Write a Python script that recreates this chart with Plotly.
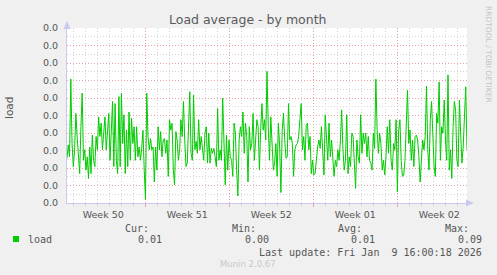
import pandas as pd
import plotly.graph_objects as go

# ---------------- data (load average) ----------------
load_values = [
    # Week 49/50
    0.0064, 0.0083, 0.0066, 0.0177, 0.0085, 0.0052, 0.0076, 0.0128, 0.0095, 0.0066,
    0.0042, 0.0109, 0.0157, 0.0061, 0.0076, 0.0047, 0.0066, 0.0035, 0.0080, 0.0042,
    0.0097, 0.0061, 0.0052, 0.0095, 0.0076, 0.0123, 0.0095, 0.0114, 0.0076, 0.0100,
    0.0123, 0.0076, 0.0109, 0.0128, 0.0061, 0.0109, 0.0145, 0.0052,
    0.0142, 0.0061, 0.0042, 0.0152, 0.0052, 0.0157, 0.0085, 0.0126, 0.0042, 0.0104,
    0.0052, 0.0130, 0.0061, 0.0121, 0.0085, 0.0109, 0.0061, 0.0109, 0.0066, 0.0080,
    0.0061, 0.0078, 0.0104, 0.0047, 0.0005, 0.0157, 0.0095, 0.0076, 0.0092, 0.0076,
    0.0080, 0.0030, 0.0080, 0.0047, 0.0109, 0.0076, 0.0102, 0.0066, 0.0090,
    # Week 51
    0.0092, 0.0071, 0.0090, 0.0038, 0.0119, 0.0104, 0.0114, 0.0047, 0.0026, 0.0102,
    0.0090, 0.0061, 0.0076, 0.0119, 0.0095, 0.0145, 0.0090, 0.0052, 0.0057, 0.0109,
    0.0159, 0.0071, 0.0061, 0.0154, 0.0076, 0.0088, 0.0071, 0.0119, 0.0076, 0.0095,
    0.0080, 0.0061, 0.0100, 0.0109, 0.0057, 0.0100, 0.0057, 0.0078, 0.0071,
    0.0078, 0.0066, 0.0052, 0.0135, 0.0061, 0.0076, 0.0061, 0.0150, 0.0090, 0.0026,
    0.0097, 0.0047, 0.0090, 0.0066, 0.0061, 0.0038, 0.0114, 0.0100, 0.0047, 0.0010,
    0.0090, 0.0109, 0.0095, 0.0130, 0.0071, 0.0114, 0.0095, 0.0030, 0.0109, 0.0076,
    0.0085, 0.0128, 0.0061, 0.0100, 0.0119, 0.0109, 0.0047, 0.0104, 0.0142, 0.0104,
    # Week 52
    0.0119, 0.0090, 0.0188, 0.0109, 0.0061, 0.0123, 0.0071, 0.0047, 0.0057, 0.0085,
    0.0038, 0.0114, 0.0080, 0.0015, 0.0104, 0.0128, 0.0090, 0.0064, 0.0066, 0.0142,
    0.0090, 0.0095, 0.0085, 0.0038, 0.0076, 0.0083, 0.0085, 0.0095, 0.0119, 0.0142,
    0.0076, 0.0095, 0.0061, 0.0111, 0.0114, 0.0076, 0.0095, 0.0042, 0.0061, 0.0040,
    0.0042, 0.0066, 0.0080, 0.0090, 0.0078, 0.0109, 0.0061, 0.0040, 0.0126, 0.0080,
    0.0061, 0.0114, 0.0066, 0.0090, 0.0061, 0.0038, 0.0061, 0.0052, 0.0076, 0.0061,
    0.0090, 0.0133, 0.0076, 0.0047, 0.0061, 0.0126, 0.0042, 0.0066, 0.0052, 0.0100,
    0.0095, 0.0061, 0.0021, 0.0090, 0.0066, 0.0057, 0.0126, 0.0071, 0.0100, 0.0085,
    # Week 01
    0.0100, 0.0066, 0.0095, 0.0061, 0.0057, 0.0047, 0.0100, 0.0078, 0.0177, 0.0104,
    0.0071, 0.0100, 0.0085, 0.0047, 0.0061, 0.0040, 0.0066, 0.0109, 0.0071, 0.0119,
    0.0061, 0.0047, 0.0085, 0.0076, 0.0119, 0.0016, 0.0104, 0.0119, 0.0061, 0.0038,
    0.0040, 0.0061, 0.0109, 0.0161, 0.0085, 0.0104, 0.0061, 0.0090, 0.0052, 0.0095,
    # Week 02
    0.0097, 0.0090, 0.0066, 0.0030, 0.0061, 0.0090, 0.0076, 0.0095, 0.0167, 0.0076,
    0.0047, 0.0119, 0.0145, 0.0085, 0.0052, 0.0038, 0.0128, 0.0114, 0.0173, 0.0061,
    0.0109, 0.0100, 0.0147, 0.0090, 0.0061, 0.0183, 0.0047, 0.0076, 0.0035, 0.0109,
    0.0145, 0.0133, 0.0061, 0.0052, 0.0147, 0.0100, 0.0057, 0.0080, 0.0119, 0.0166,
    0.0076,
]

range_start = "2025-12-07 11:30"
range_end = "2026-01-09 19:30"

week_starts = ["2025-12-14", "2025-12-21", "2025-12-28", "2026-01-04"]
week_label_pos = ["2025-12-10 12:00", "2025-12-17 12:00", "2025-12-24 12:00",
                  "2025-12-31 12:00", "2026-01-07 12:00"]
week_labels = ["Week 50", "Week 51", "Week 52", "Week 01", "Week 02"]

y_ticks = [i * 0.0025 for i in range(11)]
y_tick_text = ["0.0"] * len(y_ticks)

legend_name = "load"
stat_names = ["Cur:", "Min:", "Avg:", "Max:"]
stat_values = ["0.01", "0.00", "0.01", "0.09"]
last_update = "Last update: Fri Jan  9 16:00:18 2026"

# ---------------- figure ----------------
W, H = 497, 275
L, R, T, B = 67, 30, 28, 72
PW, PH = W - L - R, H - T - B


def px(x):
    return (x - L) / PW


def py(y):
    return (H - B - y) / PH


times = pd.date_range(range_start, range_end, periods=len(load_values))

GREEN = "#00CC00"
MGRID = "#E8A0A0"
GRID = "#D4D4D4"
AXIS = "#C8C8F0"
TXT = "#555555"

fig = go.Figure()
fig.add_trace(go.Scatter(x=times, y=load_values, mode="lines",
                         line=dict(color=GREEN, width=1), name=legend_name,
                         showlegend=False, hoverinfo="skip"))
# invisible trace to attach the label axis
fig.add_trace(go.Scatter(x=[range_start], y=[0], xaxis="x2", mode="markers",
                         marker=dict(opacity=0), showlegend=False, hoverinfo="skip"))

fig.update_layout(
    width=W, height=H,
    margin=dict(l=L, r=R, t=T, b=B, pad=0),
    paper_bgcolor="#F0F0F0", plot_bgcolor="#FFFFFF",
    font=dict(family="DejaVu Sans", size=9.5, color=TXT),
    xaxis=dict(
        type="date", range=[range_start, range_end],
        tickmode="array", tickvals=week_starts, ticktext=[""] * len(week_starts),
        showgrid=True, gridcolor=MGRID, griddash="1px,2px", gridwidth=1,
        ticks="outside", ticklen=3, tickcolor=MGRID, tickwidth=1,
        showline=True, linecolor=AXIS, linewidth=1,
        zeroline=False,
        minor=dict(dtick=86400000, tick0="2025-12-07", showgrid=True,
                   gridcolor=GRID, griddash="1px,2px", gridwidth=1,
                   ticks="outside", ticklen=2, tickcolor=GRID),
    ),
    xaxis2=dict(
        type="date", range=[range_start, range_end], overlaying="x",
        side="bottom", anchor="y",
        tickmode="array", tickvals=week_label_pos, ticktext=week_labels,
        showgrid=False, showline=False, zeroline=False, ticks="",
        ticklabelstandoff=4,
        tickfont=dict(family="DejaVu Sans", size=9.5, color=TXT),
    ),
    yaxis=dict(
        range=[0, 0.025], tickmode="array", tickvals=y_ticks, ticktext=y_tick_text,
        showgrid=True, gridcolor=MGRID, griddash="1px,2px", gridwidth=1,
        showline=True, linecolor=AXIS, linewidth=1, zeroline=False,
        ticks="", ticklabelstandoff=6,
        tickfont=dict(family="DejaVu Sans", size=9.5, color=TXT),
        minor=dict(dtick=0.00125, showgrid=True, gridcolor=GRID,
                   griddash="1px,2px", gridwidth=1),
    ),
)

shapes = []
# axis arrows
shapes.append(dict(type="path", xref="paper", yref="paper",
                   path=f"M {px(63.5)} {py(29)} L {px(70.5)} {py(29)} L {px(67)} {py(21)} Z",
                   fillcolor=AXIS, line=dict(width=0)))
shapes.append(dict(type="path", xref="paper", yref="paper",
                   path=f"M {px(466)} {py(199.5)} L {px(466)} {py(206.5)} L {px(474)} {py(203)} Z",
                   fillcolor=AXIS, line=dict(width=0)))
# legend swatch
shapes.append(dict(type="rect", xref="paper", yref="paper",
                   x0=px(13), x1=px(19), y0=py(242), y1=py(236),
                   fillcolor=GREEN, line=dict(width=0)))
fig.update_layout(shapes=shapes)

MONO = "DejaVu Sans Mono"
ann = []


def text(s, x, y, xanchor="left", size=10, color=TXT, family=MONO, angle=0):
    ann.append(dict(text=s, x=px(x), y=py(y), xref="paper", yref="paper",
                    xanchor=xanchor, yanchor="middle", showarrow=False,
                    textangle=angle, font=dict(family=family, size=size, color=color)))


text("Load average - by month", 247, 19, xanchor="center", size=12.5,
     family="DejaVu Sans", color="#5A5A5A")
text("load", 9, 108, xanchor="center", size=10.5, family="DejaVu Sans", angle=-90)
text("RRDTOOL / TOBI OETIKER", 489, 54, xanchor="center", size=7.5,
     family="DejaVu Sans", color="#C4C4C4", angle=90)

text(legend_name, 26, 239)
stat_name_right = [151, 258, 364, 471]
stat_value_right = [164, 271, 377, 484]
for nm, vl, xr1, xr2 in zip(stat_names, stat_values, stat_name_right, stat_value_right):
    text(nm, xr1, 228, xanchor="right")
    text(vl, xr2, 239, xanchor="right")
text(last_update, 484, 252, xanchor="right")
text("Munin 2.0.67", 248, 264, xanchor="center", size=8.5, family="DejaVu Sans",
     color="#C8C8C8")
fig.update_layout(annotations=ann)

fig.write_html("out.html")
